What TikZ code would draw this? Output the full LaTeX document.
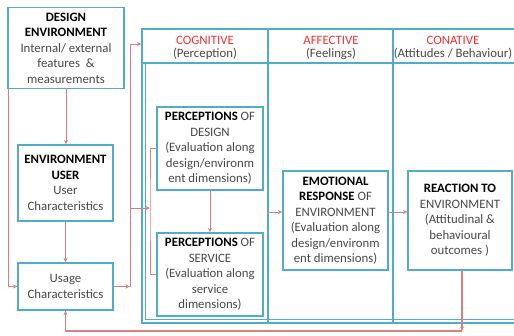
\documentclass[tikz,border=0pt]{standalone}
\usepackage{fontspec}
\setmainfont{Carlito}
\usetikzlibrary{arrows.meta}
\definecolor{boxblue}{RGB}{80,172,200}
\definecolor{lred}{RGB}{215,128,128}
\definecolor{hred}{RGB}{240,50,50}
\definecolor{tgray}{RGB}{72,72,72}
\newcommand\bt[1]{\textcolor{black}{\textbf{#1}}}
\begin{document}
\begin{tikzpicture}[x=1pt,y=-1pt,
  box/.style={draw=boxblue, line width=1.3pt, fill=white, align=center, inner sep=0pt,
    font=\fontsize{12.8}{15.5}\selectfont, text=tgray},
  frm/.style={draw=boxblue, line width=1.3pt, inner sep=0pt},
  tip/.style={-{Stealth[length=4.5pt,width=4pt]}},
  arr/.style={draw=lred, line width=0.8pt, tip},
  ln/.style={draw=lred, line width=0.8pt},
  fbk/.style={draw=lred, line width=1.6pt, tip},
  hd/.style={font=\fontsize{12.8}{14}\selectfont, text=hred, inner sep=0pt},
  sub/.style={font=\fontsize{12.8}{14}\selectfont, text=tgray, inner sep=0pt}]
\clip (0,0) rectangle (514,335);
\useasboundingbox (0,0) rectangle (514,335);

% big frame
\node[frm, minimum width=376pt, minimum height=294pt] (frame) at (330,176) {};
\draw[boxblue, line width=1.3pt] (142,63) -- (518,63);
\draw[boxblue, line width=1.3pt] (268,29) -- (268,323);
\draw[boxblue, line width=1.3pt] (393,29) -- (393,323);
\draw[boxblue, line width=1.3pt] (145.8,63) -- (145.8,319.8) -- (518,319.8);

% headers
\node[hd]  (cog)  at (205,40) {COGNITIVE};
\node[sub] (cogs) at (205,54) {(Perception)};
\node[hd]  (aff)  at (331,40) {AFFECTIVE};
\node[sub] (affs) at (331,54) {(Feelings)};
\node[hd]  (con)  at (453,40) {CONATIVE};
\node[sub] (cons) at (453,54) {(Attitudes / Behaviour)};

% left boxes
\node[box, minimum width=116pt, minimum height=81pt] (design) at (66,48)
  {\bt{DESIGN}\\\bt{ENVIRONMENT}\\Internal/ external\\features \ \&\\measurements};
\node[box, minimum width=95pt, minimum height=76pt] (user) at (65.5,183)
  {\bt{ENVIRONMENT}\\\bt{USER}\\User\\Characteristics};
\node[box, minimum width=95pt, minimum height=47pt] (usage) at (65.5,286.5)
  {Usage\\Characteristics};

% inner boxes
\node[box, minimum width=106pt, minimum height=83pt] (pdes) at (210,148.5)
  {\bt{PERCEPTIONS} OF\\DESIGN\\(Evaluation along\\design/environm\\ent dimensions)};
\node[box, minimum width=106pt, minimum height=83pt] (pser) at (210,274.5)
  {\bt{PERCEPTIONS} OF\\SERVICE\\(Evaluation along\\service\\dimensions)};
\node[box, minimum width=105pt, minimum height=99pt] (emo) at (335.5,220.5)
  {\bt{EMOTIONAL}\\\bt{RESPONSE} OF\\ENVIRONMENT\\(Evaluation along\\design/environm\\ent dimensions)};
\node[box, minimum width=104pt, minimum height=99pt] (react) at (460,220.5)
  {\bt{REACTION TO}\\ENVIRONMENT\\(Attitudinal \&\\behavioural\\outcomes )};

% left connectors
\coordinate (dl) at (8,89);
\draw[arr] (dl) |- (usage.west);
\draw[arr] (design.south) -- (design.south |- user.north);
\draw[arr] (user.south) -- (usage.north);
\coordinate (jb) at (130,286.5);
\coordinate (jt) at (130,44);
\coordinate (jm) at (130,208);
\coordinate (br) at (150,208);
\draw[arr] (usage.east) -- (jb);
\draw[arr] (jb) -- (jt) -- (frame.west |- jt);
\draw[arr] (jm) -- (br);
\draw[ln] (pdes.west) -| (br) |- (pser.west);
\draw[arr] (pdes.south) -- (pser.north);

% middle connectors
\coordinate (cd) at (268,212);
\draw[arr] (cd) -- (cd -| emo.west);
\draw[arr] (emo.east |- cd) -- (react.west |- cd);

% feedback
\coordinate (fb) at (462,331);
\draw[fbk] (react.south -| fb) -- (fb);
\draw[fbk] (fb) -| (usage.south);
\end{tikzpicture}
\end{document}
